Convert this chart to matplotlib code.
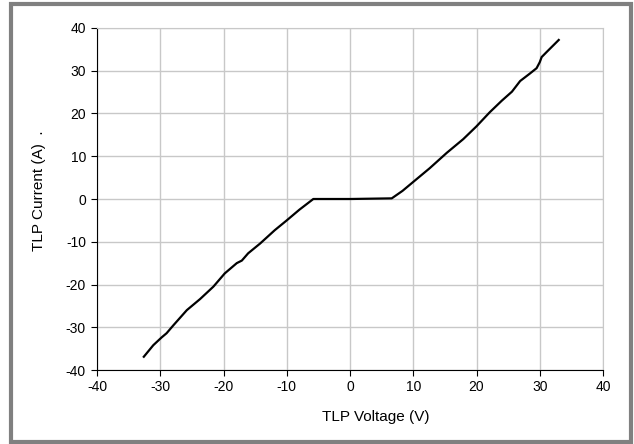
import matplotlib.pyplot as plt
from matplotlib.patches import Rectangle

plt.rcParams['font.family'] = ['Liberation Sans', 'DejaVu Sans']
plt.rcParams['axes.unicode_minus'] = False

# TLP I-V curve
voltage = [-32.6, -31.1, -29.8, -29.0, -27.9, -25.8, -23.7, -21.6, -19.8, -17.9,
           -17.1, -16.1, -14.2, -11.9, -10.0, -8.0, -5.8, 0.0, 6.6,
           8.3, 10.0, 12.6, 15.3, 17.9, 20.0, 22.1, 24.0, 25.6,
           26.9, 28.4, 29.5, 30.0, 30.3, 31.1, 33.0]
current = [-36.9, -34.2, -32.4, -31.4, -29.5, -26.0, -23.4, -20.5, -17.4, -15.0,
           -14.4, -12.7, -10.4, -7.3, -5.0, -2.5, 0.0, 0.0, 0.15,
           1.9, 4.0, 7.2, 10.8, 14.0, 17.0, 20.3, 23.0, 25.1,
           27.6, 29.3, 30.6, 32.0, 33.2, 34.4, 37.2]

x_ticks = [-40, -30, -20, -10, 0, 10, 20, 30, 40]
y_ticks = [-40, -30, -20, -10, 0, 10, 20, 30, 40]

fig = plt.figure(figsize=(6.34, 4.44), dpi=100)
fig.patches.append(Rectangle((11 / 634, 2 / 444), 620 / 634, 438 / 444,
                             transform=fig.transFigure, fill=False,
                             edgecolor='#808080', linewidth=3))

ax = fig.add_axes([97 / 634, 1 - 370 / 444, 506 / 634, 342 / 444])
ax.plot(voltage, current, color='black', linewidth=1.6)

ax.set_xlim(-40, 40)
ax.set_ylim(-40, 40)
ax.set_xticks(x_ticks)
ax.set_yticks(y_ticks)
ax.grid(True, color='#c8c8c8', linewidth=1)
ax.set_axisbelow(True)

for side in ['top', 'right']:
    ax.spines[side].set_color('#c8c8c8')
ax.tick_params(direction='out', length=4, labelsize=10)
ax.tick_params(axis='y', pad=4)
ax.tick_params(axis='x', pad=3)

ax.set_xlabel('TLP Voltage (V)', fontsize=11)
ax.xaxis.set_label_coords(279 / 506, -40 / 342)
ax.set_ylabel('TLP Current (A)  .', fontsize=11)
ax.yaxis.set_label_coords(-51 / 506, 179 / 342)

fig.savefig('out.png', dpi=100)
